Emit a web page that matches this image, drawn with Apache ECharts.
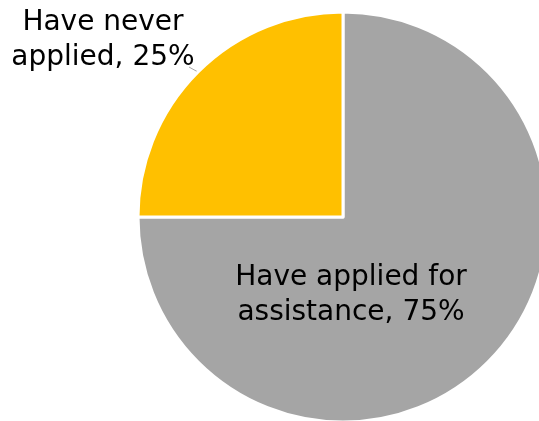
<!DOCTYPE html>
<html>
<head>
<meta charset="utf-8">
<style>
  html, body { margin: 0; padding: 0; background: #ffffff; }
  #chart { width: 539px; height: 421px; }
</style>
<script src="https://cdn.jsdelivr.net/npm/echarts@6/dist/echarts.min.js"></script>
</head>
<body>
<div id="chart"></div>
<script>
// Slice names (with the line break used in their labels), shares in percent, colours
const categories = ['Have applied for\nassistance', 'Have never\napplied'];
const shares = [75, 25];
const colors = ['#A5A5A5', '#FFC000'];

const chart = echarts.init(document.getElementById('chart'), null, { renderer: 'canvas' });

const data = categories.map((name, i) => ({
  name: name,
  value: shares[i],
  itemStyle: { color: colors[i] },
  label: i === 0 ? { position: 'inside', align: 'center' } : { position: 'outside', align: 'center' }
}));

chart.setOption({
  animation: false,
  backgroundColor: '#ffffff',
  series: [{
    type: 'pie',
    center: [343, 217],
    radius: 205,
    startAngle: 90,
    clockwise: true,
    avoidLabelOverlap: false,
    itemStyle: { borderColor: '#ffffff', borderWidth: 3 },
    label: {
      formatter: '{b}, {d}%',
      fontFamily: 'DejaVu Sans',
      fontSize: 28,
      lineHeight: 35,
      color: '#000000'
    },
    labelLine: {
      show: true,
      length: 2,
      length2: 2,
      lineStyle: { color: '#a6a6a6', width: 1 }
    },
    labelLayout: function (params) {
      if (params.dataIndex === 0) {
        return { x: 351, y: 295, align: 'center', verticalAlign: 'middle' };
      }
      const p = params.labelLinePoints || [];
      const anchor = p.length ? p[0] : null;
      const out = { x: 103, y: 40, align: 'center', verticalAlign: 'middle' };
      if (anchor) {
        out.labelLinePoints = [anchor, [anchor[0] - 9, anchor[1] - 5]];
      }
      return out;
    },
    emphasis: { disabled: true },
    data: data
  }]
});
</script>
</body>
</html>
